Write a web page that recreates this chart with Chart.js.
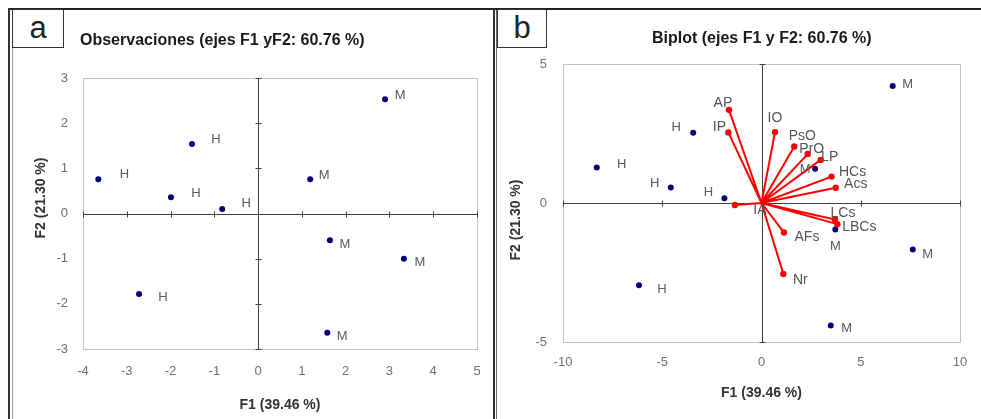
<!DOCTYPE html>
<html>
<head>
<meta charset="utf-8">
<script src="https://cdn.jsdelivr.net/npm/chart.js@4.4.0/dist/chart.umd.min.js"></script>
<style>
  body { margin: 0; background: #fff; width: 981px; height: 419px; overflow: hidden; position: relative;
         font-family: "Liberation Sans", Arial, sans-serif; }
  canvas { position: absolute; left: 0; top: 0; }
  .rule { position: absolute; }
  .tag { position: absolute; box-sizing: border-box; border: 1.5px solid #333; background: #fff;
         font-size: 31px; line-height: 36px; text-align: center; color: #222; }
  .title { position: absolute; font-weight: bold; font-size: 16px; line-height: 16px; color: #1a1a1a; white-space: nowrap; }
  .ytitle { position: absolute; width: 120px; height: 16px; margin-left: -60px; margin-top: -8px;
            font-weight: bold; font-size: 14px; line-height: 16px; color: #333; text-align: center;
            white-space: nowrap; transform: rotate(-90deg); }
</style>
</head>
<body>
<canvas id="chartA" width="981" height="419"></canvas>
<canvas id="chartB" width="981" height="419"></canvas>

<!-- frames -->
<div class="rule" style="left:8px;top:8px;width:973px;height:2px;background:#222"></div>
<div class="rule" style="left:8px;top:8px;width:2px;height:411px;background:#333"></div>
<div class="rule" style="left:12px;top:10px;width:1px;height:409px;background:#999"></div>
<div class="rule" style="left:493px;top:8px;width:2px;height:411px;background:#333"></div>
<div class="rule" style="left:496px;top:10px;width:1px;height:409px;background:#666"></div>

<div class="tag" style="left:12px;top:9px;width:52px;height:39px;">a</div>
<div class="tag" style="left:497px;top:9px;width:50px;height:39px;">b</div>

<div class="title" style="left:80px;top:32px;">Observaciones (ejes F1 yF2: 60.76 %)</div>
<div class="title" style="left:652px;top:30px;">Biplot (ejes F1 y F2: 60.76 %)</div>

<div class="ytitle" style="left:40px;top:198px;">F2 (21.30 %)</div>
<div class="ytitle" style="left:515px;top:220px;">F2 (21.30 %)</div>

<script>
const FONT = '"Liberation Sans", Arial, sans-serif';

// panel a: observations
const obsLabelsA = ['H', 'H', 'H', 'H', 'H', 'M', 'M', 'M', 'M', 'M'];
const obsF1A = [-3.65, -1.51, -1.99, -0.82, -2.72, 2.90, 1.19, 1.64, 3.33, 1.58];
const obsF2A = [0.76, 1.54, 0.36, 0.10, -1.78, 2.53, 0.76, -0.59, -1.00, -2.64];

// panel b: biplot observations
const obsLabelsB = ['M', 'H', 'H', 'H', 'H', 'M', 'M', 'M', 'H', 'M'];
const obsF1B = [6.61, -3.44, -8.30, -4.57, -1.87, 2.70, 3.72, 7.62, -6.17, 3.49];
const obsF2B = [4.21, 2.53, 1.28, 0.56, 0.17, 1.23, -0.95, -1.67, -2.96, -4.41];

// panel b: variables (vectors)
const varNames = ['AP', 'IP', 'IO', 'PsO', 'PrO', 'LP', 'HCs', 'Acs', 'LCs', 'LBCs', 'AFs', 'Nr', 'IA'];
const varF1 = [-1.64, -1.67, 0.68, 1.65, 2.33, 2.98, 3.53, 3.74, 3.70, 3.82, 1.13, 1.10, -1.34];
const varF2 = [3.35, 2.54, 2.55, 2.03, 1.76, 1.55, 0.95, 0.55, -0.59, -0.76, -1.06, -2.55, -0.07];

// axis ticks
const ticksA = { xMin: -4, xMax: 5, xStep: 1, yMin: -3, yMax: 3, yStep: 1 };
const ticksB = { xMin: -10, xMax: 10, xStep: 5, yMin: -5, yMax: 5, yStep: 5 };

// label nudges in pixels (layout only)
const nudgeA = [[26,-5],[24,-5],[25,-4],[24,-6],[24,4],[15,-4],[14,-4],[15,4],[16,4],[15,4]];
const nudgeObsB = [[15,-2],[-17,-5],[25,-3],[-16,-4],[-16,-6],[-10,1],[0,17],[15,5],[23,4],[16,3]];
const nudgeVarB = [[-6,-7],[-9,-5],[0,-14],[8,-10],[4,-5],[9,-3],[21,-4],[20,-4],[8,-6],[22,3],[23,5],[17,6],[25,5]];

const pts = (xs, ys) => xs.map((v, i) => ({ x: v, y: ys[i] }));

function vectorData() {
  const d = [];
  varF1.forEach((v, i) => {
    d.push({ x: 0, y: 0 }, { x: v, y: varF2[i] }, { x: null, y: null });
  });
  return d;
}

function frameAndAxes(tickLen) {
  return {
    id: 'frameAndAxes',
    beforeDatasetsDraw(chart) {
      const { ctx, chartArea: a, scales: { x, y } } = chart;
      ctx.save();
      ctx.lineWidth = 1;
      ctx.strokeStyle = '#c4c4c4';
      ctx.strokeRect(Math.round(a.left) + 0.5, Math.round(a.top) + 0.5,
                     Math.round(a.width), Math.round(a.height));
      const x0 = Math.round(x.getPixelForValue(0)) + 0.5;
      const y0 = Math.round(y.getPixelForValue(0)) + 0.5;
      ctx.strokeStyle = '#404040';
      ctx.beginPath();
      ctx.moveTo(a.left, y0); ctx.lineTo(a.right, y0);
      ctx.moveTo(x0, a.top); ctx.lineTo(x0, a.bottom);
      x.ticks.forEach(t => {
        const px = Math.round(x.getPixelForValue(t.value)) + 0.5;
        ctx.moveTo(px, y0 - tickLen); ctx.lineTo(px, y0 + tickLen);
      });
      y.ticks.forEach(t => {
        const py = Math.round(y.getPixelForValue(t.value)) + 0.5;
        ctx.moveTo(x0 - tickLen, py); ctx.lineTo(x0 + tickLen, py);
      });
      ctx.stroke();
      ctx.restore();
    }
  };
}

function textLabels(sets) {
  return {
    id: 'textLabels',
    afterDatasetsDraw(chart) {
      const { ctx, scales: { x, y } } = chart;
      ctx.save();
      ctx.textAlign = 'center';
      ctx.textBaseline = 'middle';
      sets.forEach(s => {
        ctx.font = s.size + 'px ' + FONT;
        ctx.fillStyle = s.color;
        s.names.forEach((n, i) => {
          const px = x.getPixelForValue(s.xs[i]) + s.nudge[i][0];
          const py = y.getPixelForValue(s.ys[i]) + s.nudge[i][1];
          ctx.fillText(n, px, py);
        });
      });
      ctx.restore();
    }
  };
}

function axisOpts(min, max, step, pad, title, fitSize, horizontal) {
  return {
    type: 'linear',
    min: min, max: max,
    grid: { display: false, drawTicks: false },
    border: { display: false },
    ticks: { stepSize: step, padding: pad, color: '#707070', font: { size: 13, family: FONT } },
    title: { display: horizontal, text: title, color: '#333', padding: 0,
             font: { size: 14, weight: 'bold', family: FONT } },
    afterFit: s => { if (horizontal) s.height = fitSize; else s.width = fitSize; }
  };
}

new Chart(document.getElementById('chartA'), {
  type: 'scatter',
  data: {
    datasets: [{
      data: pts(obsF1A, obsF2A),
      backgroundColor: '#00007a', borderColor: '#00007a',
      pointRadius: 3, pointBorderWidth: 0
    }]
  },
  options: {
    responsive: false, animation: false, events: [],
    layout: { padding: { left: 31.6, right: 504, top: 78, bottom: 5.6 } },
    plugins: { legend: { display: false }, tooltip: { enabled: false } },
    scales: {
      x: axisOpts(ticksA.xMin, ticksA.xMax, ticksA.xStep, 15, 'F1 (39.46 %)', 64.4, true),
      y: axisOpts(ticksA.yMin, ticksA.yMax, ticksA.yStep, 15, 'F2 (21.30 %)', 51.4, false)
    }
  },
  plugins: [frameAndAxes(3), textLabels([
    { names: obsLabelsA, xs: obsF1A, ys: obsF2A, nudge: nudgeA, size: 13, color: '#5a5a5a' }
  ])]
});

new Chart(document.getElementById('chartB'), {
  type: 'scatter',
  data: {
    datasets: [{
      data: vectorData(),
      showLine: true, spanGaps: false,
      borderColor: '#ff0000', borderWidth: 2,
      backgroundColor: '#ff0000',
      pointRadius: c => (c.dataIndex % 3 === 1 ? 3.2 : 0), pointBorderWidth: 0
    }, {
      data: pts(obsF1B, obsF2B),
      backgroundColor: '#00007a', borderColor: '#00007a',
      pointRadius: 3, pointBorderWidth: 0
    }]
  },
  options: {
    responsive: false, animation: false, events: [],
    layout: { padding: { left: 506.6, right: 21, top: 64, bottom: 17.9 } },
    plugins: { legend: { display: false }, tooltip: { enabled: false } },
    scales: {
      x: axisOpts(ticksB.xMin, ticksB.xMax, ticksB.xStep, 13, 'F1 (39.46 %)', 59.1, true),
      y: axisOpts(ticksB.yMin, ticksB.yMax, ticksB.yStep, 16, 'F2 (21.30 %)', 56.4, false)
    }
  },
  plugins: [frameAndAxes(3), textLabels([
    { names: obsLabelsB, xs: obsF1B, ys: obsF2B, nudge: nudgeObsB, size: 13, color: '#5a5a5a' },
    { names: varNames, xs: varF1, ys: varF2, nudge: nudgeVarB, size: 14, color: '#555' }
  ])]
});
</script>
</body>
</html>
